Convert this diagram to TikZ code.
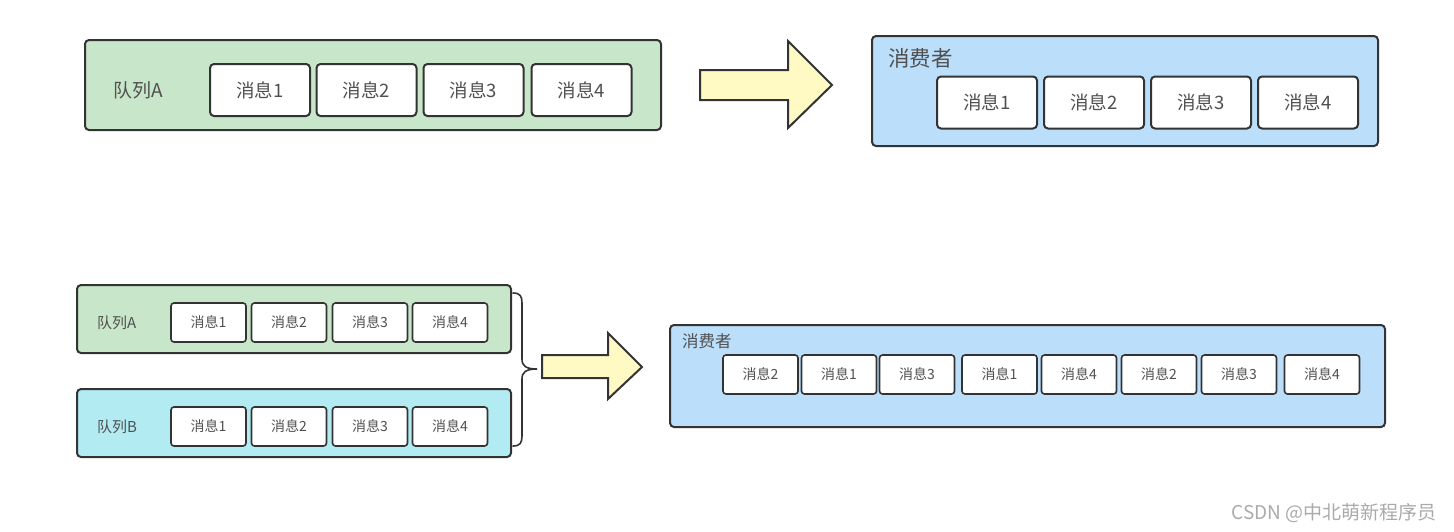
\documentclass[tikz,border=0pt]{standalone}
\usepackage{fontspec}
\setmainfont{Noto Sans CJK SC}
\definecolor{qgreen}{RGB}{200,230,201}
\definecolor{qcyan}{RGB}{178,235,242}
\definecolor{cblue}{RGB}{187,222,251}
\definecolor{ayellow}{RGB}{255,249,196}
\definecolor{edge}{RGB}{51,51,51}
\definecolor{txt}{RGB}{80,80,80}
\definecolor{wm}{RGB}{170,170,170}
\tikzset{
  panel/.style={draw=edge, line width=2pt, rounded corners=4pt},
  msgbig/.style={draw=edge, fill=white, line width=2pt, rounded corners=4pt, minimum width=100pt, minimum height=52pt, inner sep=0pt, text=txt, font=\fontsize{18.5}{22}\selectfont},
  msgsmall/.style={draw=edge, fill=white, line width=1.6pt, rounded corners=3pt, minimum width=75pt, minimum height=39pt, inner sep=0pt, text=txt, font=\fontsize{14}{17}\selectfont},
  lbl/.style={inner sep=0pt, text=txt, anchor=west},
  bigarrow/.style={draw=edge, fill=ayellow, line width=2pt, line join=miter},
}
\begin{document}
\begin{tikzpicture}[x=1pt,y=-1pt]
\useasboundingbox (0,0) rectangle (1454,531);
% ---------- top ----------
\node[panel, fill=qgreen, minimum width=576pt, minimum height=90pt, inner sep=0pt, anchor=north west] (qA) at (84,39) {};
\node[lbl, font=\fontsize{19}{22}\selectfont] (qAl) at (113,90) {队列A};
\node[msgbig] (a1) at (260,90) {消息1};
\node[msgbig] (a2) at (366.5,90) {消息2};
\node[msgbig] (a3) at (473.5,90) {消息3};
\node[msgbig] (a4) at (581.5,90) {消息4};

\draw[bigarrow] (700,70) -- (788,70) -- (788,41) -- (832,85) -- (788,128) -- (788,100) -- (700,100) -- cycle;

\node[panel, fill=cblue, minimum width=506pt, minimum height=110pt, inner sep=0pt, anchor=north west] (cA) at (871,35) {};
\node[lbl, font=\fontsize{21.5}{25}\selectfont] (cAl) at (888,58) {消费者};
\node[msgbig] (c1) at (987,102.5) {消息1};
\node[msgbig] (c2) at (1094,102.5) {消息2};
\node[msgbig] (c3) at (1201,102.5) {消息3};
\node[msgbig] (c4) at (1308,102.5) {消息4};

% ---------- bottom ----------
\node[panel, fill=qgreen, minimum width=434pt, minimum height=68pt, inner sep=0pt, anchor=north west] (qB1) at (76,284) {};
\node[lbl, font=\fontsize{15}{18}\selectfont] (qB1l) at (97,323) {队列A};
\node[msgsmall] (b1) at (208.5,322.5) {消息1};
\node[msgsmall] (b2) at (289,322.5) {消息2};
\node[msgsmall] (b3) at (370,322.5) {消息3};
\node[msgsmall] (b4) at (450,322.5) {消息4};

\node[panel, fill=qcyan, minimum width=434pt, minimum height=68pt, inner sep=0pt, anchor=north west] (qB2) at (76,388) {};
\node[lbl, font=\fontsize{15}{18}\selectfont] (qB2l) at (97,427) {队列B};
\node[msgsmall] (d1) at (208.5,426.5) {消息1};
\node[msgsmall] (d2) at (289,426.5) {消息2};
\node[msgsmall] (d3) at (370,426.5) {消息3};
\node[msgsmall] (d4) at (450,426.5) {消息4};

% brace
\draw[edge, line width=1.6pt, line cap=round]
  (513,293) .. controls (520,293) and (522,296) .. (522,303)
  -- (522,359) .. controls (522,366) and (526,369) .. (537,369)
  .. controls (526,369) and (522,372) .. (522,379)
  -- (522,436) .. controls (522,443) and (520,446) .. (513,446);

\draw[bigarrow] (542,355) -- (608,355) -- (608,333) -- (642,367) -- (608,399) -- (608,378) -- (542,378) -- cycle;

\node[panel, fill=cblue, minimum width=715pt, minimum height=102pt, inner sep=0pt, anchor=north west] (cB) at (669,324) {};
\node[lbl, font=\fontsize{16.5}{20}\selectfont] (cBl) at (682,341) {消费者};
\node[msgsmall] (e1) at (760.5,374.5) {消息2};
\node[msgsmall] (e2) at (839,374.5) {消息1};
\node[msgsmall] (e3) at (917,374.5) {消息3};
\node[msgsmall] (e4) at (999.5,374.5) {消息1};
\node[msgsmall] (e5) at (1079,374.5) {消息4};
\node[msgsmall] (e6) at (1159,374.5) {消息2};
\node[msgsmall] (e7) at (1239,374.5) {消息3};
\node[msgsmall] (e8) at (1322,374.5) {消息4};

% watermark
\node[inner sep=0pt, anchor=east, text=wm, font=\fontsize{19}{22}\selectfont] (wmk) at (1437,513) {CSDN @中北萌新程序员};
\end{tikzpicture}
\end{document}
